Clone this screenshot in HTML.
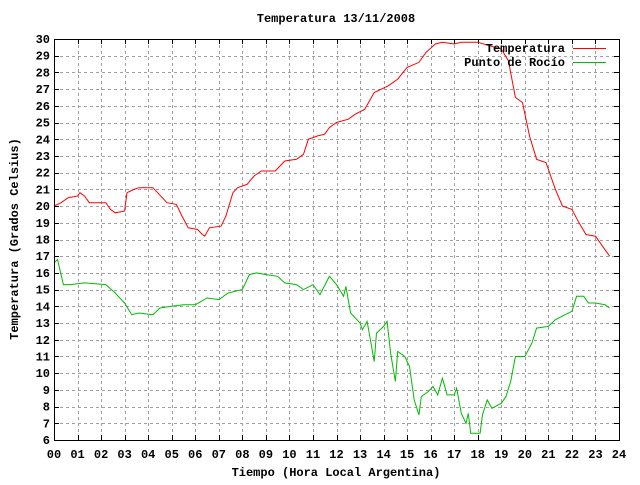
<!DOCTYPE html>
<html><head><meta charset="utf-8"><style>
body{margin:0;background:#fff;}
svg text{font-family:"Liberation Mono",monospace;font-weight:bold;font-size:12px;fill:#000;}
</style></head><body>
<svg id="chart" width="640" height="480" xmlns="http://www.w3.org/2000/svg">
<rect width="640" height="480" fill="#fff"/>
<text x="336" y="22" text-anchor="middle">Temperatura 13/11/2008</text>
<text x="336" y="476" text-anchor="middle">Tiempo (Hora Local Argentina)</text>
<text transform="translate(18,239) rotate(-90)" text-anchor="middle">Temperatura (Grados Celsius)</text>
<g id="grid"></g>
<g id="ticks"></g>
<g id="series"></g>
<rect x="54.5" y="39.5" width="565" height="401" fill="none" stroke="#000" stroke-width="1"/>
<g>
<text x="565" y="52" text-anchor="end">Temperatura</text>
<line x1="573" y1="48.5" x2="606" y2="48.5" stroke="#f00"/>
<text x="565" y="66" text-anchor="end">Punto de Rocío</text>
<line x1="573" y1="62.5" x2="606" y2="62.5" stroke="#0b0"/>
</g>
</svg>
<script>
const xTicks=["00","01","02","03","04","05","06","07","08","09","10","11","12","13","14","15","16","17","18","19","20","21","22","23","24"];
const yTicks=[6,7,8,9,10,11,12,13,14,15,16,17,18,19,20,21,22,23,24,25,26,27,28,29,30];
const tempTimes=[0,0.3,0.6,1.0,1.1,1.3,1.5,2.2,2.4,2.6,3.0,3.1,3.4,3.6,4.2,4.6,4.8,5.2,5.4,5.7,6.1,6.3,6.4,6.6,7.1,7.3,7.6,7.8,8.2,8.5,8.8,9.4,9.6,9.8,10.3,10.6,10.8,11.2,11.5,11.7,12.0,12.5,12.8,13.2,13.6,14.2,14.6,15.0,15.5,15.8,16.2,16.5,17.0,17.3,18.0,18.5,19.0,19.3,19.6,19.9,20.2,20.5,20.9,21.3,21.6,22.0,22.3,22.6,23.0,23.3,23.6];
const tempValues=[20.0,20.2,20.5,20.6,20.8,20.6,20.2,20.2,19.8,19.6,19.7,20.8,21.0,21.1,21.1,20.5,20.2,20.1,19.5,18.7,18.6,18.3,18.2,18.7,18.8,19.4,20.8,21.1,21.3,21.8,22.1,22.1,22.4,22.7,22.8,23.1,24.0,24.2,24.3,24.7,25.0,25.2,25.5,25.8,26.8,27.2,27.6,28.3,28.6,29.2,29.7,29.8,29.7,29.8,29.8,29.6,29.4,28.7,26.5,26.2,24.2,22.8,22.6,21.0,20.0,19.8,19.0,18.3,18.2,17.6,17.0];
const dewTimes=[0,0.15,0.4,0.7,1.3,2.2,2.6,3.0,3.3,3.6,4.2,4.5,5.0,5.5,6.0,6.5,7.0,7.4,8.0,8.3,8.6,9.0,9.5,9.8,10.3,10.6,11.0,11.3,11.7,12.0,12.3,12.4,12.6,13.0,13.1,13.3,13.4,13.6,13.7,14.0,14.15,14.3,14.5,14.6,14.9,15.1,15.3,15.5,15.6,15.9,16.1,16.3,16.5,16.7,17.0,17.1,17.3,17.5,17.6,17.7,18.1,18.2,18.4,18.6,19.0,19.2,19.4,19.6,20.0,20.3,20.5,21.0,21.3,22.0,22.2,22.5,22.7,23.0,23.4,23.6];
const dewValues=[16.6,16.8,15.3,15.3,15.4,15.3,14.8,14.2,13.5,13.6,13.5,13.9,14.0,14.1,14.1,14.5,14.4,14.8,15.0,15.9,16.0,15.9,15.8,15.4,15.3,15.0,15.3,14.7,15.8,15.3,14.6,15.2,13.6,13.0,12.6,13.1,12.3,10.7,12.4,12.8,13.1,11.2,9.5,11.3,11.0,10.4,8.4,7.5,8.6,8.9,9.2,8.7,9.7,8.7,8.7,9.1,7.6,7.0,7.6,6.4,6.4,7.5,8.4,7.9,8.2,8.6,9.5,11.0,11.0,11.8,12.7,12.8,13.2,13.7,14.6,14.6,14.2,14.2,14.1,13.9];

const NS="http://www.w3.org/2000/svg";
const L=54,R=619,T=39,B=440,yMin=6,yMax=30,hMax=24;
const xs=h=>L+(R-L)*h/hMax;
const ys=v=>B-(B-T)*(v-yMin)/(yMax-yMin);
const px=v=>Math.round(v)+0.5;
const grid=document.getElementById('grid'),ticks=document.getElementById('ticks'),series=document.getElementById('series');
function mk(tag,attrs,parent){const e=document.createElementNS(NS,tag);for(const k in attrs)e.setAttribute(k,attrs[k]);parent.appendChild(e);return e;}
xTicks.forEach((lab,i)=>{
  const x=px(xs(i));
  if(i>0&&i<xTicks.length-1){
    const g=mk('line',{x1:x,y1:T,x2:x,y2:B,stroke:'#a0a0a0','stroke-dasharray':'3,3'},grid);
    
    
  }
  const tk=mk('line',{x1:x,y1:B,x2:x,y2:B-5,stroke:'#000'},ticks);
  
  
  const tk2=mk('line',{x1:x,y1:T,x2:x,y2:T+5,stroke:'#000'},ticks);
  
  
  const t=mk('text',{x:xs(i),y:B+18,'text-anchor':'middle'},ticks);
  t.textContent=lab;
  
  
});
yTicks.forEach(v=>{
  const y=px(ys(v));
  if(v>yMin&&v<yMax){
    const g=mk('line',{x1:L,y1:y,x2:R,y2:y,stroke:'#a0a0a0','stroke-dasharray':'3,3'},grid);
    
    
  }
  const tk=mk('line',{x1:L,y1:y,x2:L+5,y2:y,stroke:'#000'},ticks);
  
  
  const tk2=mk('line',{x1:R,y1:y,x2:R-5,y2:y,stroke:'#000'},ticks);
  
  
  const t=mk('text',{x:L-4,y:ys(v)+4,'text-anchor':'end'},ticks);
  t.textContent=v;
  
  
});
function line(times,vals,color,name){
  const d=times.map((h,i)=>(i?'L':'M')+xs(h).toFixed(1)+','+ys(vals[i]).toFixed(1)).join('');
  const p=mk('path',{d:d,fill:'none',stroke:color,'stroke-width':1},series);
  
  
}
line(tempTimes,tempValues,'#f00','temperatura-line');
line(dewTimes,dewValues,'#0b0','punto-de-rocio-line');
</script>
</body></html>
